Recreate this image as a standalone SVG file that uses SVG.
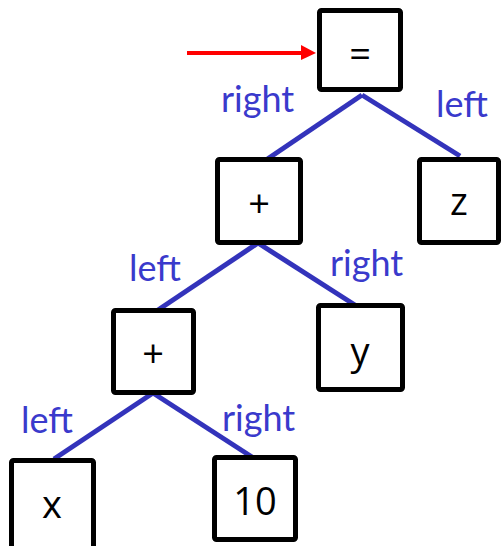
<svg xmlns="http://www.w3.org/2000/svg" width="502" height="546" viewBox="0 0 502 546">
<defs>
<style>
.box{fill:#fff;stroke:#000;stroke-width:5;}
.nt{font-family:"Open Sans","Liberation Sans",sans-serif;font-size:38px;fill:#000;text-anchor:middle;dominant-baseline:central;}
.edge{stroke:#3333bb;stroke-width:5;fill:none;}
.lbl{font-family:"Lato","Liberation Sans",sans-serif;font-size:36px;fill:#3a3acc;}
</style>
<marker id="ah" markerWidth="10" markerHeight="10" refX="10" refY="5" orient="auto" markerUnits="userSpaceOnUse" viewBox="0 0 10 10">
<path d="M0,0 L10,5 L0,10 Z" fill="#ff0000"/>
</marker>
</defs>
<g id="connectors">
<line class="edge" x1="362" y1="95" x2="263" y2="162"/>
<line class="edge" x1="362" y1="95" x2="460" y2="156"/>
<line class="edge" x1="258" y1="243" x2="158" y2="310"/>
<line class="edge" x1="258" y1="243" x2="358" y2="307"/>
<line class="edge" x1="153" y1="393" x2="54" y2="459"/>
<line class="edge" x1="153" y1="393" x2="252" y2="457"/>
<line x1="187" y1="53" x2="302" y2="53" stroke="#ff0000" stroke-width="4"/>
<path d="M301,45 L316,53 L301,60 Z" fill="#ff0000"/>
</g>
<g id="labels">
<text class="lbl" x="221" y="112">right</text>
<text class="lbl" x="436" y="117">left</text>
<text class="lbl" x="129" y="281">left</text>
<text class="lbl" x="330" y="276">right</text>
<text class="lbl" x="21" y="433">left</text>
<text class="lbl" x="222" y="431">right</text>
</g>
<g id="n_eq"><rect class="box" x="319.5" y="10.5" width="81" height="79" rx="2"/><text class="nt" x="360" y="52">=</text></g>
<g id="n_plus1"><rect class="box" x="217.5" y="159.5" width="83" height="83" rx="2"/><text class="nt" x="259" y="202">+</text></g>
<g id="n_z"><rect class="box" x="419.5" y="159.5" width="79" height="83" rx="2"/><text class="nt" x="459" y="200">z</text></g>
<g id="n_plus2"><rect class="box" x="113.5" y="310.5" width="80" height="82" rx="2"/><text class="nt" x="153" y="352">+</text></g>
<g id="n_y"><rect class="box" x="318.5" y="305.5" width="84" height="84" rx="2"/><text class="nt" x="360" y="350">y</text></g>
<g id="n_x"><rect class="box" x="11.5" y="460.5" width="82" height="90" rx="2"/><text class="nt" x="52" y="503">x</text></g>
<g id="n_10"><rect class="box" x="214.5" y="457.5" width="81" height="82" rx="2"/><text class="nt" x="255" y="500">10</text></g>
</svg>
